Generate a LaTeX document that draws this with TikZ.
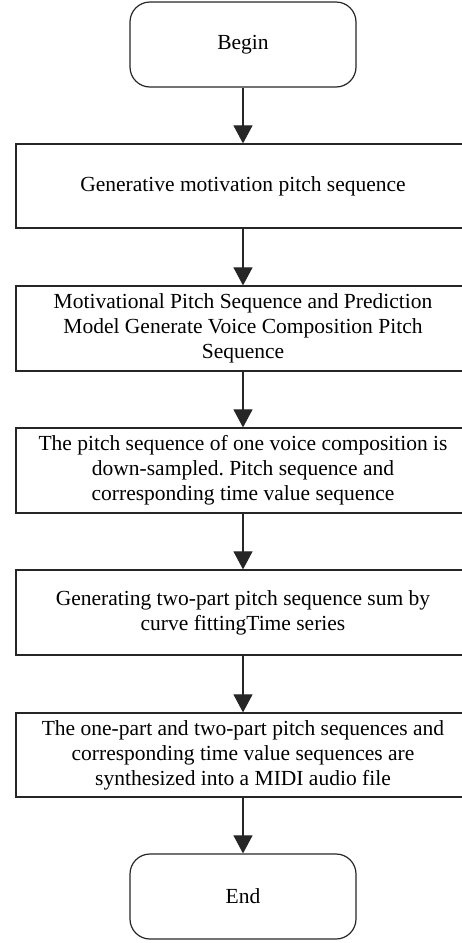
\documentclass[tikz,border=0pt]{standalone}
\usepackage{fontspec}
\setmainfont{Liberation Serif}
\usetikzlibrary{arrows.meta}
\frenchspacing
\begin{document}
\begin{tikzpicture}[x=1pt,y=-1pt,
  box/.style={draw=black!85, line width=1.2pt, minimum width=454pt, minimum height=84pt,
    align=center, inner sep=0pt, font=\fontsize{21.5}{25}\selectfont},
  term/.style={draw=black!85, line width=1.2pt, rounded corners=20pt, minimum width=226pt,
    minimum height=85pt, align=center, inner sep=0pt, font=\fontsize{21.5}{25}\selectfont},
  flow/.style={draw=black!85, line width=1.1pt, -{Triangle[length=18pt,width=19pt]}}]
\useasboundingbox (0,0) rectangle (462,943);
\begin{scope}
\clip (0,0) rectangle (462,943);
\node[term] (begin) at (243,44.5) {Begin};
\node[box] (s1) at (243,186) {Generative motivation pitch sequence};
\node[box, minimum height=85pt] (s2) at (243,328.5) {Motivational Pitch Sequence and Prediction\\Model Generate Voice Composition Pitch\\Sequence};
\node[box, minimum height=85pt] (s3) at (243,470.5) {The pitch sequence of one voice composition is\\down-sampled. Pitch sequence and\\corresponding time value sequence};
\node[box, minimum height=85pt] (s4) at (243,612.5) {Generating two-part pitch sequence sum by\\curve fittingTime series};
\node[box] (s5) at (243,755) {The one-part and two-part pitch sequences and\\corresponding time value sequences are\\synthesized into a MIDI audio file};
\node[term] (end) at (243,896.5) {End};
\draw[flow] (begin) -- (s1);
\draw[flow] (s1) -- (s2);
\draw[flow] (s2) -- (s3);
\draw[flow] (s3) -- (s4);
\draw[flow] (s4) -- (s5);
\draw[flow] (s5) -- (end);
\end{scope}
\end{tikzpicture}
\end{document}
